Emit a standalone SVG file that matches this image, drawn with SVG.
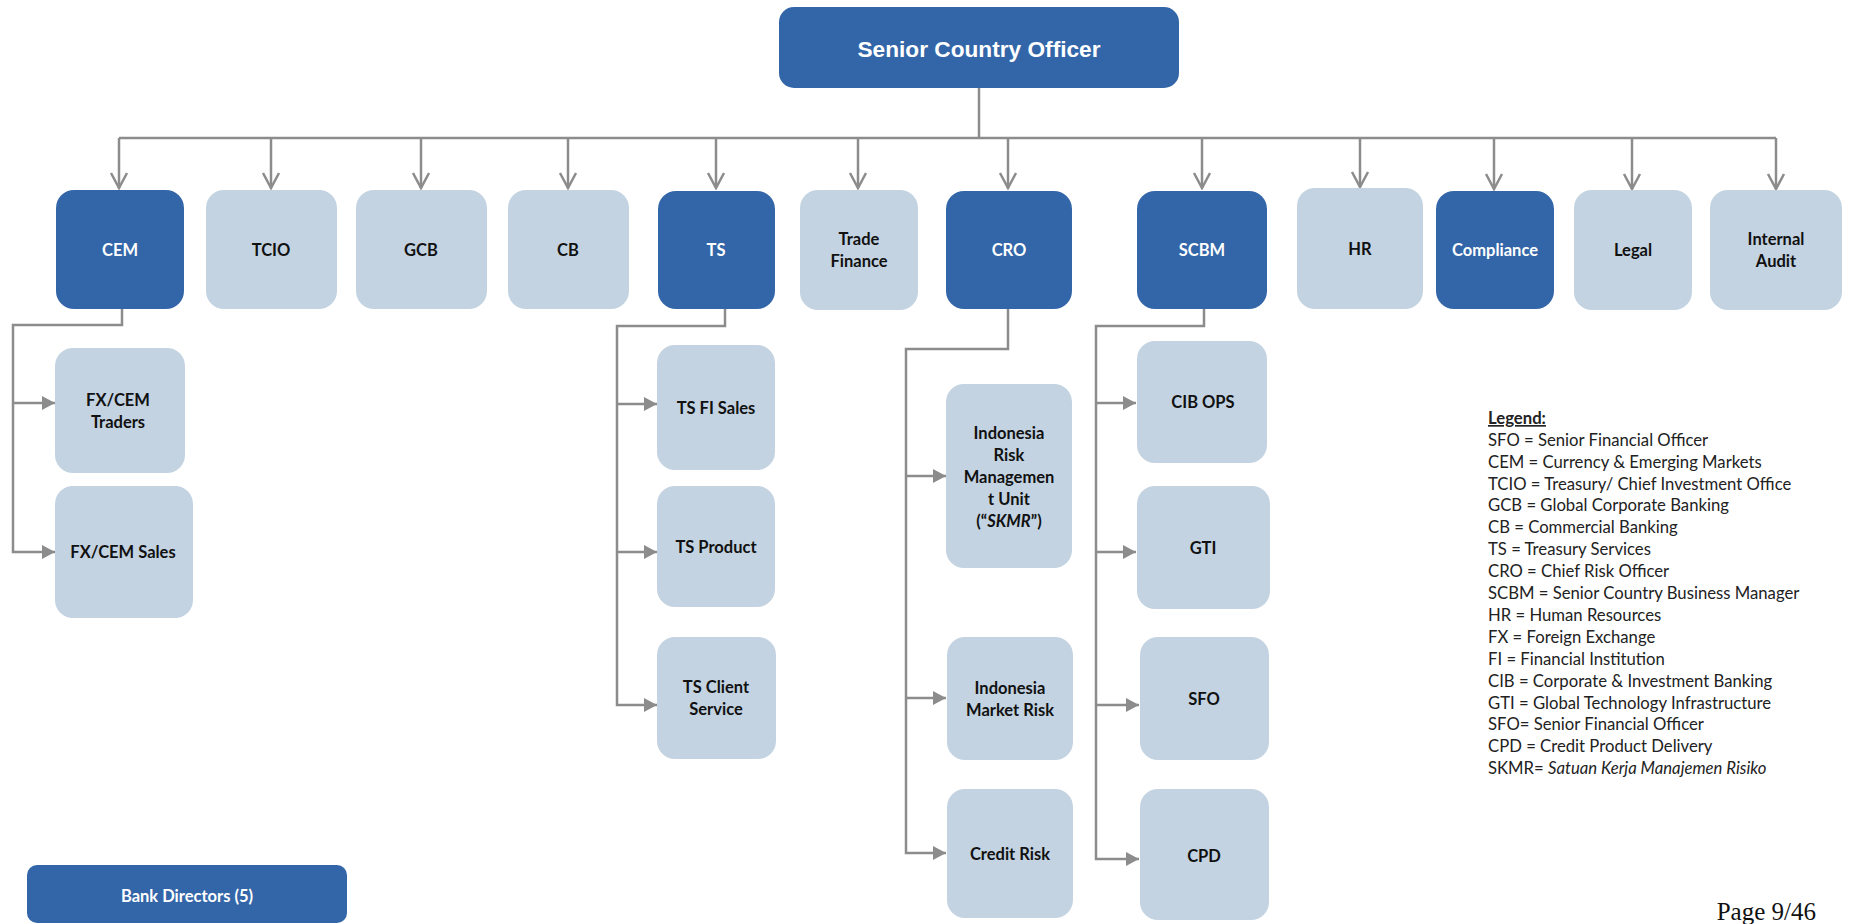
<svg xmlns="http://www.w3.org/2000/svg" width="1849" height="924" viewBox="0 0 1849 924">
<style>
.dk{fill:#3366a8}
.lt{fill:#c3d3e1}
.t{font-family:Lato,"Open Sans","Liberation Sans",sans-serif;font-weight:bold;font-size:16.5px;text-anchor:middle}
.w{fill:#ffffff}
.b{fill:#111111}
.c{fill:none;stroke:#8c8c8c;stroke-width:2.5}
.lg{font-family:Lato,"Open Sans","Liberation Sans",sans-serif;font-size:16.7px;fill:#222222}
</style>
<defs>
<marker id="open" viewBox="-17 -10 19 20" refX="0" refY="0" markerWidth="19" markerHeight="20" markerUnits="userSpaceOnUse" orient="auto">
<path d="M-15,-8 L0,0 L-15,8" fill="none" stroke="#8c8c8c" stroke-width="2.5"/>
</marker>
<marker id="tri" viewBox="-14 -8 15 16" refX="0" refY="0" markerWidth="15" markerHeight="16" markerUnits="userSpaceOnUse" orient="auto">
<path d="M-13,-7 L0,0 L-13,7 Z" fill="#8c8c8c"/>
</marker>
</defs>
<rect width="1849" height="924" fill="#ffffff"/>

<g id="connectors">
<path class="c" d="M979 88 V138 M119 138 H1776"/>
<path class="c" marker-end="url(#open)" d="M119 138 V188"/>
<path class="c" marker-end="url(#open)" d="M271 138 V188"/>
<path class="c" marker-end="url(#open)" d="M421 138 V188"/>
<path class="c" marker-end="url(#open)" d="M568 138 V188"/>
<path class="c" marker-end="url(#open)" d="M716 138 V188"/>
<path class="c" marker-end="url(#open)" d="M858 138 V188"/>
<path class="c" marker-end="url(#open)" d="M1008 138 V188"/>
<path class="c" marker-end="url(#open)" d="M1202 138 V188"/>
<path class="c" marker-end="url(#open)" d="M1360 138 V187"/>
<path class="c" marker-end="url(#open)" d="M1494 138 V189"/>
<path class="c" marker-end="url(#open)" d="M1632 138 V189"/>
<path class="c" marker-end="url(#open)" d="M1776 138 V189"/>

<path class="c" marker-end="url(#tri)" d="M122 309 V325 H13 V552 H55"/>
<path class="c" marker-end="url(#tri)" d="M13 403 H55"/>

<path class="c" marker-end="url(#tri)" d="M725 309 V326 H617 V705 H657"/>
<path class="c" marker-end="url(#tri)" d="M617 404 H657"/>
<path class="c" marker-end="url(#tri)" d="M617 552 H657"/>

<path class="c" marker-end="url(#tri)" d="M1008 309 V349 H906 V853 H946"/>
<path class="c" marker-end="url(#tri)" d="M906 476 H946"/>
<path class="c" marker-end="url(#tri)" d="M906 698 H946"/>

<path class="c" marker-end="url(#tri)" d="M1204 309 V326 H1096 V859 H1139"/>
<path class="c" marker-end="url(#tri)" d="M1096 403 H1136"/>
<path class="c" marker-end="url(#tri)" d="M1096 552 H1136"/>
<path class="c" marker-end="url(#tri)" d="M1096 705 H1139"/>
</g>

<g id="sco"><rect class="dk" x="779" y="7" width="400" height="81" rx="15"/>
<text x="979" y="57" font-family="'Liberation Sans',Arial,sans-serif" font-weight="bold" font-size="22" text-anchor="middle" fill="#ffffff" textLength="243" lengthAdjust="spacingAndGlyphs">Senior Country Officer</text></g>

<g id="cem"><rect class="dk" x="56" y="190" width="128" height="119" rx="18"/><text class="t w" x="120" y="256">CEM</text></g>
<g id="tcio"><rect class="lt" x="206" y="190" width="131" height="119" rx="18"/><text class="t b" x="271" y="256">TCIO</text></g>
<g id="gcb"><rect class="lt" x="356" y="190" width="131" height="119" rx="18"/><text class="t b" x="421" y="256">GCB</text></g>
<g id="cb"><rect class="lt" x="508" y="190" width="121" height="119" rx="18"/><text class="t b" x="568" y="256">CB</text></g>
<g id="ts"><rect class="dk" x="658" y="191" width="117" height="118" rx="18"/><text class="t w" x="716" y="256">TS</text></g>
<g id="tradefinance"><rect class="lt" x="800" y="190" width="118" height="120" rx="18"/><text class="t b" x="859" y="245">Trade</text><text class="t b" x="859" y="267">Finance</text></g>
<g id="cro"><rect class="dk" x="946" y="191" width="126" height="118" rx="18"/><text class="t w" x="1009" y="256">CRO</text></g>
<g id="scbm"><rect class="dk" x="1137" y="191" width="130" height="118" rx="18"/><text class="t w" x="1202" y="256">SCBM</text></g>
<g id="hr"><rect class="lt" x="1297" y="188" width="126" height="121" rx="18"/><text class="t b" x="1360" y="255">HR</text></g>
<g id="compliance"><rect class="dk" x="1436" y="191" width="118" height="118" rx="18"/><text class="t w" x="1495" y="256">Compliance</text></g>
<g id="legal"><rect class="lt" x="1574" y="190" width="118" height="120" rx="18"/><text class="t b" x="1633" y="256">Legal</text></g>
<g id="internalaudit"><rect class="lt" x="1710" y="190" width="132" height="120" rx="18"/><text class="t b" x="1776" y="245">Internal</text><text class="t b" x="1776" y="267">Audit</text></g>

<g id="fxtraders"><rect class="lt" x="55" y="348" width="130" height="125" rx="18"/><text class="t b" x="118" y="406">FX/CEM</text><text class="t b" x="118" y="428">Traders</text></g>
<g id="fxsales"><rect class="lt" x="55" y="486" width="138" height="132" rx="18"/><text class="t b" x="123" y="558">FX/CEM Sales</text></g>

<g id="tsfisales"><rect class="lt" x="657" y="345" width="118" height="125" rx="18"/><text class="t b" x="716" y="414">TS FI Sales</text></g>
<g id="tsproduct"><rect class="lt" x="657" y="486" width="118" height="121" rx="18"/><text class="t b" x="716" y="553">TS Product</text></g>
<g id="tsclient"><rect class="lt" x="657" y="637" width="119" height="122" rx="18"/><text class="t b" x="716" y="693">TS Client</text><text class="t b" x="716" y="715">Service</text></g>

<g id="irmu"><rect class="lt" x="946" y="384" width="126" height="184" rx="18"/>
<text class="t b" x="1009" y="439">Indonesia</text><text class="t b" x="1009" y="461">Risk</text><text class="t b" x="1009" y="483">Managemen</text><text class="t b" x="1009" y="505">t Unit</text><text class="t b" x="1009" y="527">(“<tspan font-style="italic">SKMR</tspan>”)</text></g>
<g id="marketrisk"><rect class="lt" x="947" y="637" width="126" height="123" rx="18"/><text class="t b" x="1010" y="694">Indonesia</text><text class="t b" x="1010" y="716">Market Risk</text></g>
<g id="creditrisk"><rect class="lt" x="947" y="789" width="126" height="129" rx="18"/><text class="t b" x="1010" y="860">Credit Risk</text></g>

<g id="cibops"><rect class="lt" x="1137" y="341" width="130" height="122" rx="18"/><text class="t b" x="1203" y="408">CIB OPS</text></g>
<g id="gti"><rect class="lt" x="1137" y="486" width="133" height="123" rx="18"/><text class="t b" x="1203" y="554">GTI</text></g>
<g id="sfo"><rect class="lt" x="1140" y="637" width="129" height="123" rx="18"/><text class="t b" x="1204" y="705">SFO</text></g>
<g id="cpd"><rect class="lt" x="1140" y="789" width="129" height="131" rx="18"/><text class="t b" x="1204" y="862">CPD</text></g>

<g id="bankdirectors"><rect class="dk" x="27" y="865" width="320" height="58" rx="10"/><text class="t w" x="187" y="902">Bank Directors (5)</text></g>

<g id="legend">
<text class="lg" x="1488" y="424" font-weight="bold" text-decoration="underline">Legend:</text>
<text class="lg" x="1488" y="446">SFO = Senior Financial Officer</text>
<text class="lg" x="1488" y="468">CEM = Currency &amp; Emerging Markets</text>
<text class="lg" x="1488" y="490">TCIO = Treasury/ Chief Investment Office</text>
<text class="lg" x="1488" y="511">GCB = Global Corporate Banking</text>
<text class="lg" x="1488" y="533">CB = Commercial Banking</text>
<text class="lg" x="1488" y="555">TS = Treasury Services</text>
<text class="lg" x="1488" y="577">CRO = Chief Risk Officer</text>
<text class="lg" x="1488" y="599">SCBM = Senior Country Business Manager</text>
<text class="lg" x="1488" y="621">HR = Human Resources</text>
<text class="lg" x="1488" y="643">FX = Foreign Exchange</text>
<text class="lg" x="1488" y="665">FI = Financial Institution</text>
<text class="lg" x="1488" y="687">CIB = Corporate &amp; Investment Banking</text>
<text class="lg" x="1488" y="709">GTI = Global Technology Infrastructure</text>
<text class="lg" x="1488" y="730">SFO= Senior Financial Officer</text>
<text class="lg" x="1488" y="752">CPD = Credit Product Delivery</text>
<text class="lg" x="1488" y="774">SKMR= <tspan font-style="italic">Satuan Kerja Manajemen Risiko</tspan></text>
</g>

<text x="1816" y="920" font-family="'Liberation Serif','Times New Roman',serif" font-size="25" text-anchor="end" fill="#111111">Page 9/46</text>
</svg>
